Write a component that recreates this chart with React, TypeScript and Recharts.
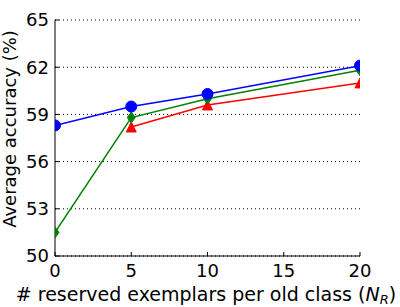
import React from 'react'
import { LineChart, Line, XAxis, YAxis, CartesianGrid } from 'recharts'

const NR = [0, 5, 10, 20]
const BLUE = [58.3, 59.5, 60.3, 62.1]
const GREEN = [51.5, 58.8, 60.0, 61.8]
const RED = [null, 58.2, 59.6, 61.0]
const X_TICKS = [0, 5, 10, 15, 20]
const Y_TICKS = [50, 53, 56, 59, 62, 65]

const data = NR.map((n, i) => ({ n, blue: BLUE[i], green: GREEN[i], red: RED[i] }))

const FONT = 'DejaVu Sans'

function BottomTick(props: any) {
  const { x, y, payload } = props
  return (
    <g>
      <line x1={x} x2={x} y1={y} y2={y - 4} stroke="#000" />
      <text x={x} y={y + 21} textAnchor="middle" fontSize={18} fontFamily={FONT} fill="#000">
        {payload.value}
      </text>
    </g>
  )
}

function LeftTick(props: any) {
  const { x, y, payload } = props
  return (
    <g>
      <line x1={x} x2={x + 4} y1={y} y2={y} stroke="#000" />
      <text x={x - 6} y={y} dy="0.36em" textAnchor="end" fontSize={18} fontFamily={FONT} fill="#000">
        {payload.value}
      </text>
    </g>
  )
}

function TopTick(props: any) {
  const { x, y } = props
  return <line x1={x} x2={x} y1={y} y2={y + 4} stroke="#000" />
}

function RightTick(props: any) {
  const { x, y } = props
  return <line x1={x} x2={x - 4} y1={y} y2={y} stroke="#000" />
}

function diamondDot(props: any) {
  const { cx, cy, key } = props
  if (cy == null || cx == null) return <g key={key} />
  return (
    <polygon
      key={key}
      points={`${cx},${cy - 5.5} ${cx + 4},${cy} ${cx},${cy + 5.5} ${cx - 4},${cy}`}
      fill="#008000"
      stroke="#008000"
    />
  )
}

function triangleDot(props: any) {
  const { cx, cy, key } = props
  if (cy == null || cx == null) return <g key={key} />
  return (
    <polygon
      key={key}
      points={`${cx},${cy - 5} ${cx + 5},${cy + 5} ${cx - 5},${cy + 5}`}
      fill="#ff0000"
      stroke="#ff0000"
    />
  )
}

export default function App() {
  return (
    <div style={{ position: 'fixed', left: 0, top: 0, width: 400, height: 307, background: '#fff' }}>
      <LineChart width={400} height={307} data={data} margin={{ top: 20, right: 40, left: 0, bottom: 0 }}>
        <CartesianGrid
          xAxisId="bottom"
          yAxisId="left"
          vertical={false}
          stroke="#000"
          strokeDasharray="1 3"
        />
        <XAxis
          xAxisId="bottom"
          dataKey="n"
          type="number"
          domain={[0, 20]}
          ticks={X_TICKS}
          allowDataOverflow
          height={51}
          stroke="#000"
          tickSize={0}
          tickMargin={0}
          tick={<BottomTick />}
          label={{
            content: () => (
              <text x={206} y={301} textAnchor="middle" fontSize={19} fontFamily={FONT} fill="#000">
                # reserved exemplars per old class (
                <tspan fontStyle="italic">N</tspan>
                <tspan fontStyle="italic" fontSize={13} dy={3}>R</tspan>
                <tspan dy={-3}>)</tspan>
              </text>
            ),
          }}
        />
        <XAxis
          xAxisId="top"
          dataKey="n"
          type="number"
          orientation="top"
          domain={[0, 20]}
          ticks={X_TICKS}
          allowDataOverflow
          height={0}
          stroke="#000"
          tickSize={0}
          tickMargin={0}
          tick={<TopTick />}
          label={{
            content: () => (
              <text x={207} y={14} textAnchor="middle" fontSize={18.5} fontFamily={FONT} fill="#000">
                CIFAR-100
              </text>
            ),
          }}
        />
        <YAxis
          yAxisId="left"
          type="number"
          domain={[50, 65]}
          ticks={Y_TICKS}
          allowDataOverflow
          width={55}
          stroke="#000"
          tickSize={0}
          tickMargin={0}
          tick={<LeftTick />}
          label={{
            content: () => (
              <text
                x={0}
                y={0}
                transform="translate(15.5,129) rotate(-90)"
                textAnchor="middle"
                fontSize={18}
                fontFamily={FONT}
                fill="#000"
              >
                Average accuracy (%)
              </text>
            ),
          }}
        />
        <YAxis
          yAxisId="right"
          orientation="right"
          type="number"
          domain={[50, 65]}
          ticks={Y_TICKS}
          allowDataOverflow
          width={0}
          stroke="#000"
          tickSize={0}
          tickMargin={0}
          tick={<RightTick />}
        />
        <Line
          xAxisId="bottom"
          yAxisId="left"
          dataKey="red"
          type="linear"
          stroke="#ff0000"
          strokeWidth={1.5}
          dot={triangleDot}
          activeDot={false}
          isAnimationActive={false}
        />
        <Line
          xAxisId="bottom"
          yAxisId="left"
          dataKey="green"
          type="linear"
          stroke="#008000"
          strokeWidth={1.5}
          dot={diamondDot}
          activeDot={false}
          isAnimationActive={false}
        />
        <Line
          xAxisId="bottom"
          yAxisId="left"
          dataKey="blue"
          type="linear"
          stroke="#0000ff"
          strokeWidth={1.5}
          dot={{ r: 5.5, fill: '#0000ff', stroke: '#0000ff', strokeWidth: 1 }}
          activeDot={false}
          isAnimationActive={false}
        />
      </LineChart>
    </div>
  )
}
